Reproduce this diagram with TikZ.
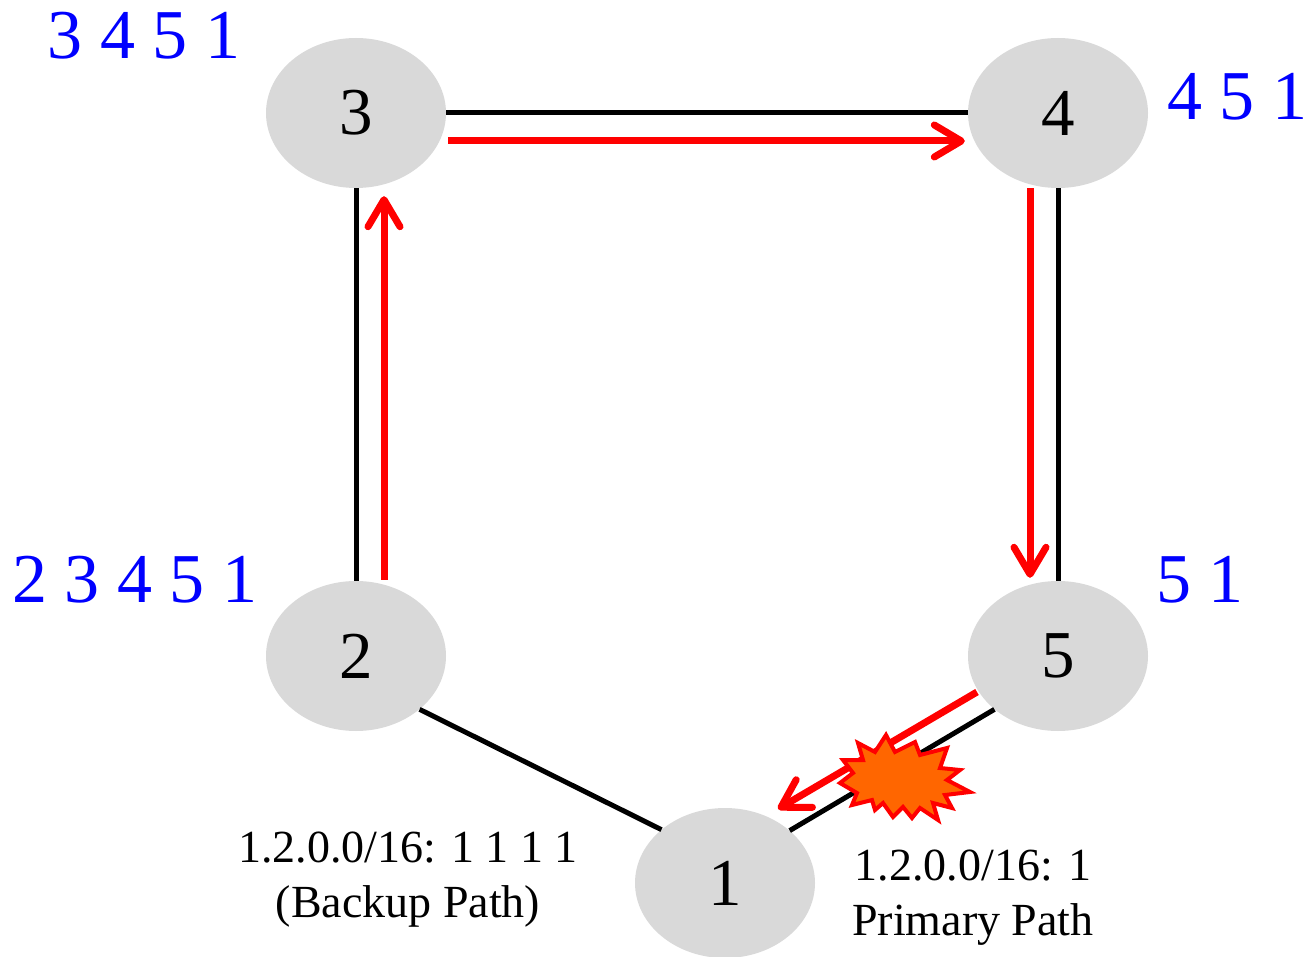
\documentclass[tikz,border=0pt]{standalone}
\usepackage{fontspec}
\setmainfont{Liberation Serif}
\usetikzlibrary{shapes.geometric,arrows.meta}
\definecolor{nodegray}{HTML}{D9D9D9}
\definecolor{boomorange}{HTML}{FF6600}
\begin{document}
\begin{tikzpicture}[x=1pt,y=-1pt,
  router/.style={ellipse,fill=nodegray,minimum width=180pt,minimum height=150pt,inner sep=0pt,font=\fontsize{67}{67}\selectfont},
  link/.style={line width=5pt,black},
  redpath/.style={line width=7pt,red,-{Straight Barb[length=27pt,width=32pt,round]}},
  pathlabel/.style={text=blue,font=\fontsize{70}{70}\selectfont,inner sep=0pt},
  note/.style={font=\fontsize{46}{55}\selectfont,align=center,inner sep=0pt}]
\useasboundingbox (0,0) rectangle (1307,957);
\node[router] (n3) at (356,113) {3};
\node[router] (n4) at (1058,113) {4};
\node[router] (n2) at (356,656) {2};
\node[router] (n5) at (1058,656) {5};
\node[router] (n1) at (725,883) {1};
% black links
\draw[link] (n3.east) -- (n4.west);
\draw[link] (n2.north) -- (n3.south);
\draw[link] (n4.south) -- (n5.north);
\draw[link] (n2.-40) -- (n1.140);
\draw[link] (n5.220) -- (n1.39);
% red backup path
\draw[redpath] ([xshift=28pt,yshift=1pt]n2.north) -- ([xshift=28pt,yshift=-8pt]n3.south);
\draw[redpath] ([xshift=2pt,yshift=-28pt]n3.east) -- ([xshift=-3pt,yshift=-28pt]n4.west);
\draw[redpath] ([xshift=-28pt]n4.south) -- ([xshift=-28pt,yshift=3pt]n5.north);
\coordinate (rs) at (977,692);
\coordinate (re) at (778,809);
\draw[redpath] (rs) -- (re);
% explosion
\draw[red,line width=4pt,line join=miter,fill=boomorange]
 (886,735) -- (895,752) -- (915,742) -- (920,755) -- (947,748) -- (940,768)
 -- (960,770) -- (947,780) -- (970,792) -- (945,795) -- (952,808) -- (933,803)
 -- (938,820) -- (920,808) -- (912,818) -- (903,807) -- (893,817) -- (883,803)
 -- (875,810) -- (872,800) -- (852,805) -- (857,793) -- (840,783) -- (853,773)
 -- (843,760) -- (863,760) -- (858,743) -- (875,752) -- cycle;
% labels
\node[pathlabel] (l3) at (144,36) {3 4 5 1};
\node[pathlabel] (l4) at (1237,97) {4 5 1};
\node[pathlabel] (l2) at (135,580) {2 3 4 5 1};
\node[pathlabel] (l5) at (1200,580) {5 1};
\node[note] (bk) at (408,880) {1.2.0.0/16: 1 1 1 1\\(Backup Path)};
\node[note] (pr) at (973,898) {1.2.0.0/16: 1\\Primary Path};
\end{tikzpicture}
\end{document}
